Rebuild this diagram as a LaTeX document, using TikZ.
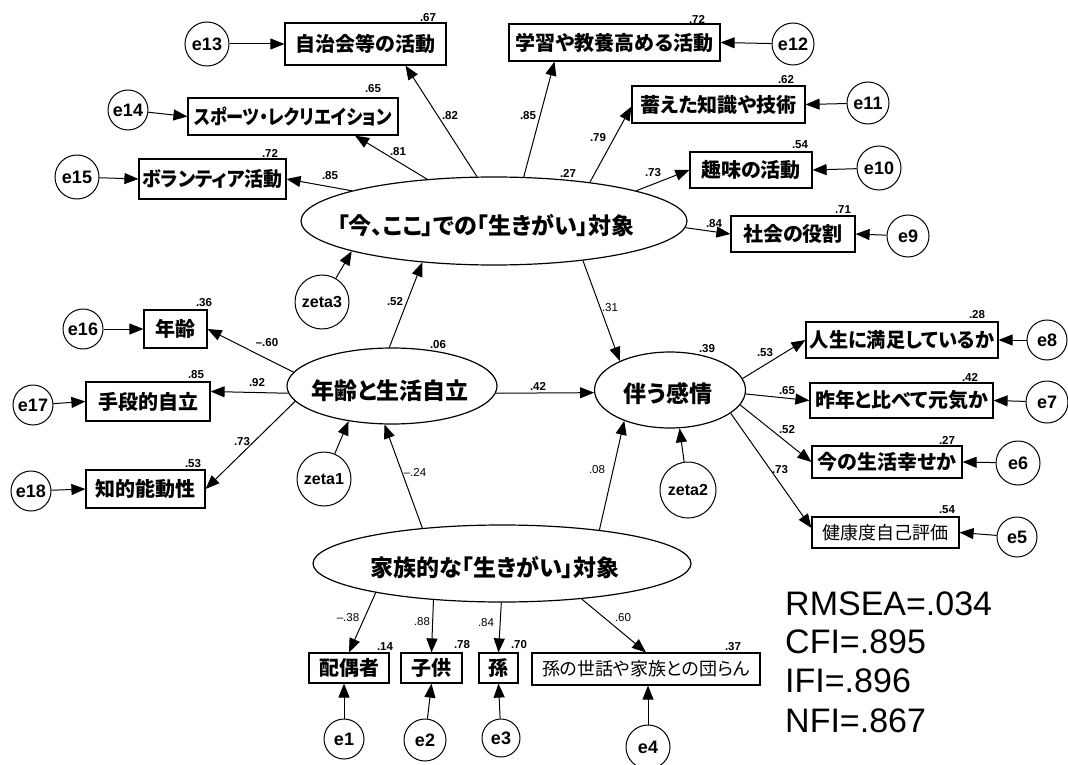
\documentclass[tikz,border=0pt]{standalone}
\usepackage{graphicx}
\usepackage{fontspec}
\setmainfont{Liberation Sans}
\newfontfamily\jp[RawFeature=+palt]{Noto Sans CJK JP}
\usetikzlibrary{shapes.geometric,arrows.meta}
\newcommand\zwt[1]{\makebox[0pt]{#1}}
\begin{document}
\begin{tikzpicture}[x=1pt,y=-1pt,
  arr/.style={line width=1pt,-{Triangle[length=14pt,width=11pt]}},
  obs/.style={draw,line width=1.2pt,rectangle,inner sep=0pt,font=\jp\bfseries\fontsize{20}{22}\selectfont},
  obss/.style={draw,line width=1.2pt,rectangle,inner sep=0pt,font=\jp\fontsize{18}{20}\selectfont},
  lat/.style={draw,line width=1.2pt,ellipse,inner sep=0pt},
  lattext/.style={font=\jp\bfseries\fontsize{23}{25}\selectfont,inner sep=0pt},
  err/.style={draw,line width=1pt,circle,inner sep=0pt,minimum size=#1,font=\bfseries\fontsize{18}{20}\selectfont},
  zeta/.style={draw,line width=1pt,circle,inner sep=0pt,minimum size=#1,font=\bfseries\fontsize{16}{18}\selectfont},
  lbl/.style={inner sep=0pt,font=\bfseries\fontsize{11.5}{12}\selectfont},
  lbln/.style={inner sep=0pt,font=\fontsize{11.5}{12}\selectfont},
  fit/.style={inner sep=0pt,anchor=base west,font=\fontsize{34}{40}\selectfont}
]
\useasboundingbox[fill=white] (0,0) rectangle (1068,765);

% ---------- latent variables ----------
\node[lat,minimum width=386pt,minimum height=88pt] (I) at (494,221) {};
\node[lattext] (It) at (486,226) {「今、ここ」での「生きがい」対象};
\node[lat,minimum width=210pt,minimum height=76pt] (N) at (392,386) {};
\node[lattext] (Nt) at (390,391) {年齢と生活自立};
\node[lat,minimum width=151pt,minimum height=76pt] (K) at (670,390) {};
\node[lattext] (Kt) at (668,394) {伴う感情};
\node[lat,minimum width=378pt,minimum height=77pt] (F) at (502,563.5) {};
\node[lattext] (Ft) at (495,568) {家族的な「生きがい」対象};

% ---------- observed variables ----------
\node[obs,minimum width=161pt,minimum height=42pt] (jichi) at (365.5,44) {\zwt{自治会等の活動}};
\node[obs,minimum width=211pt,minimum height=37pt] (gaku) at (614.5,42.5) {\zwt{学習や教養高める活動}};
\node[obs,minimum width=210pt,minimum height=37pt] (sports) at (293,116.5) {\zwt{\scalebox{0.86}[1]{スポーツ・レクリエイション}}};
\node[obs,minimum width=147pt,minimum height=40pt] (vol) at (212.5,179) {\zwt{\scalebox{0.95}[1]{ボランティア活動}}};
\node[obs,minimum width=173pt,minimum height=37pt] (takuwae) at (718.5,104.5) {\zwt{蓄えた知識や技術}};
\node[obs,minimum width=122pt,minimum height=36pt] (shumi) at (751,170) {\zwt{趣味の活動}};
\node[obs,minimum width=124pt,minimum height=36pt] (shakai) at (793,234) {\zwt{社会の役割}};
\node[obs,minimum width=63pt,minimum height=38pt] (nenrei) at (175.5,329) {\zwt{年齢}};
\node[obs,minimum width=124pt,minimum height=39pt] (shudan) at (148,401.5) {\zwt{手段的自立}};
\node[obs,minimum width=119pt,minimum height=38pt] (chiteki) at (145.5,489) {\zwt{知的能動性}};
\node[obs,minimum width=192pt,minimum height=36pt] (jinsei) at (902,340) {\zwt{\scalebox{0.96}[1]{人生に満足しているか}}};
\node[obs,minimum width=183pt,minimum height=35pt] (saku) at (901.5,400.5) {\zwt{昨年と比べて元気か}};
\node[obs,minimum width=150pt,minimum height=32pt] (ima) at (887,462) {\zwt{今の生活幸せか}};
\node[obss,minimum width=147pt,minimum height=31pt] (kenko) at (885.5,532.5) {\zwt{健康度自己評価}};
\node[obs,minimum width=80pt,minimum height=30pt] (haigu) at (349,668) {\zwt{配偶者}};
\node[obs,minimum width=61pt,minimum height=30pt] (kodomo) at (431.5,668) {\zwt{子供}};
\node[obs,minimum width=39pt,minimum height=30pt] (mago) at (498.5,668) {\zwt{孫}};
\node[obss,minimum width=228pt,minimum height=32pt] (sewa) at (646,669) {\zwt{孫の世話や家族との団らん}};

% ---------- error terms ----------
\node[err=44pt] (e13) at (207,44) {e13};
\node[err=42pt] (e12) at (793,44) {e12};
\node[err=40pt] (e14) at (128,110) {e14};
\node[err=44pt] (e15) at (77,177) {e15};
\node[err=42pt] (e11) at (868,103) {e11};
\node[err=44pt] (e10) at (879,168) {e10};
\node[err=42pt] (e9) at (908,236) {e9};
\node[err=40pt] (e16) at (83,329) {e16};
\node[err=40pt] (e17) at (33,405) {e17};
\node[err=40pt] (e18) at (31,491) {e18};
\node[err=40pt] (e8) at (1047,340) {e8};
\node[err=42pt] (e7) at (1047,402) {e7};
\node[err=44pt] (e6) at (1018,463) {e6};
\node[err=40pt] (e5) at (1017,537) {e5};
\node[err=40pt] (e1) at (344,739) {e1};
\node[err=42pt] (e2) at (425,740) {e2};
\node[err=38pt] (e3) at (501,738) {e3};
\node[err=44pt] (e4) at (648,747) {e4};
\node[zeta=54pt] (z3) at (322,302) {zeta3};
\node[zeta=54pt] (z1) at (324,479) {zeta1};
\node[zeta=56pt] (z2) at (688,490) {zeta2};

% ---------- structural paths ----------
\draw[arr] (N.94) -- (I.210);
\draw[arr] (N.-4) -- (K.182);
\draw[arr] (I.-24.6) -- (K.150.3);
\draw[arr] (F.156.4) -- (N.259.5);
\draw[arr] (F.19.8) -- (K.214.1);
\draw[arr] (z3) -- (I.192.4);
\draw[arr] (z1) -- (N.219.6);
\draw[arr] (z2) -- (K.284.9);

% ---------- measurement paths ----------
\draw[arr] (I.111) -- ([xshift=40pt]jichi.south);
\draw[arr] (I.56) -- ([xshift=-60pt]gaku.south);
\draw[arr] (I.148) -- ([xshift=62pt]sports.south);
\draw[arr] (I.168.5) -- (vol.east);
\draw[arr] (I.22.5) -- ([yshift=-2pt]takuwae.west);
\draw[arr] (I.12) -- (shumi.west);
\draw[arr] (I.-2.5) -- (shakai.west);
\draw[arr] (N.172.7) -- (nenrei.east);
\draw[arr] (N.184) -- ([yshift=10pt]shudan.east);
\draw[arr] (N.189.7) -- (chiteki.east);
\draw[arr] (K.9.1) -- (jinsei.west);
\draw[arr] (K.-3) -- (saku.west);
\draw[arr] (K.-12.6) -- (ima.west);
\draw[arr] (K.-21) -- ([yshift=4.5pt]kenko.west);
\draw[arr] (F.193) -- (haigu.north);
\draw[arr] (F.208.2) -- (kodomo.north);
\draw[arr] (F.269) -- (mago.north);
\draw[arr] (F.-24.8) -- (sewa.north);

% ---------- error paths ----------
\draw[arr] (e13) -- (jichi.west);
\draw[arr] (e12) -- (gaku.east);
\draw[arr] (e14) -- (sports.west);
\draw[arr] (e15) -- (vol.west);
\draw[arr] (e11) -- (takuwae.east);
\draw[arr] (e10) -- (shumi.east);
\draw[arr] (e9) -- (shakai.east);
\draw[arr] (e16) -- (nenrei.west);
\draw[arr] (e17) -- (shudan.west);
\draw[arr] (e18) -- (chiteki.west);
\draw[arr] (e8) -- (jinsei.east);
\draw[arr] (e7) -- (saku.east);
\draw[arr] (e6) -- (ima.east);
\draw[arr] (e5) -- (kenko.east);
\draw[arr] (e1) -- (e1 |- haigu.south);
\draw[arr] (e2) -- (kodomo.south);
\draw[arr] (e3) -- (mago.south);
\draw[arr] (e4) -- (e4 |- sewa.south);

% ---------- squared multiple correlations ----------
\node[lbl] (r1) at (428,18) {.67};
\node[lbl] (r2) at (697,19) {.72};
\node[lbl] (r3) at (373,89) {.65};
\node[lbl] (r4) at (270,153) {.72};
\node[lbl] (r5) at (786,80) {.62};
\node[lbl] (r6) at (800,145) {.54};
\node[lbl] (r7) at (843,210) {.71};
\node[lbl] (r8) at (568,173) {.27};
\node[lbl] (r9) at (204,303) {.36};
\node[lbl] (r10) at (196,375) {.85};
\node[lbl] (r11) at (193,464) {.53};
\node[lbl] (r12) at (438,345) {.06};
\node[lbl] (r13) at (707,349) {.39};
\node[lbl] (r14) at (977,315) {.28};
\node[lbl] (r15) at (970,377) {.42};
\node[lbl] (r16) at (947,440) {.27};
\node[lbl] (r17) at (947,510) {.54};
\node[lbl] (r18) at (385,647) {.14};
\node[lbl] (r19) at (462,645) {.78};
\node[lbl] (r20) at (519,645) {.70};
\node[lbl] (r21) at (733,647) {.37};

% ---------- path coefficients ----------
\node[lbl] (c1) at (450,116) {.82};
\node[lbl] (c2) at (528,116) {.85};
\node[lbl] (c3) at (598,138) {.79};
\node[lbl] (c4) at (653,173) {.73};
\node[lbl] (c5) at (398,152) {.81};
\node[lbl] (c6) at (330,176) {.85};
\node[lbl] (c7) at (714,224) {.84};
\node[lbl] (c8) at (395,302) {.52};
\node[lbln] (c9) at (610,308) {.31};
\node[lbl] (c10) at (538,386) {.42};
\node[lbl] (c11) at (267,343) {–.60};
\node[lbl] (c12) at (257,383) {.92};
\node[lbl] (c13) at (242,442) {.73};
\node[lbln] (c14) at (415,472) {–.24};
\node[lbln] (c15) at (597,470) {.08};
\node[lbl] (c16) at (765,353) {.53};
\node[lbl] (c17) at (787,391) {.65};
\node[lbl] (c18) at (787,430) {.52};
\node[lbl] (c19) at (780,470) {.73};
\node[lbln] (c20) at (348,618) {–.38};
\node[lbln] (c21) at (422,622) {.88};
\node[lbln] (c22) at (486,623) {.84};
\node[lbln] (c23) at (623,618) {.60};

% ---------- fit indices ----------
\node[fit] (f1) at (785,615) {RMSEA=.034};
\node[fit] (f2) at (785,653) {CFI=.895};
\node[fit] (f3) at (785,692) {IFI=.896};
\node[fit] (f4) at (785,732) {NFI=.867};
\end{tikzpicture}
\end{document}
